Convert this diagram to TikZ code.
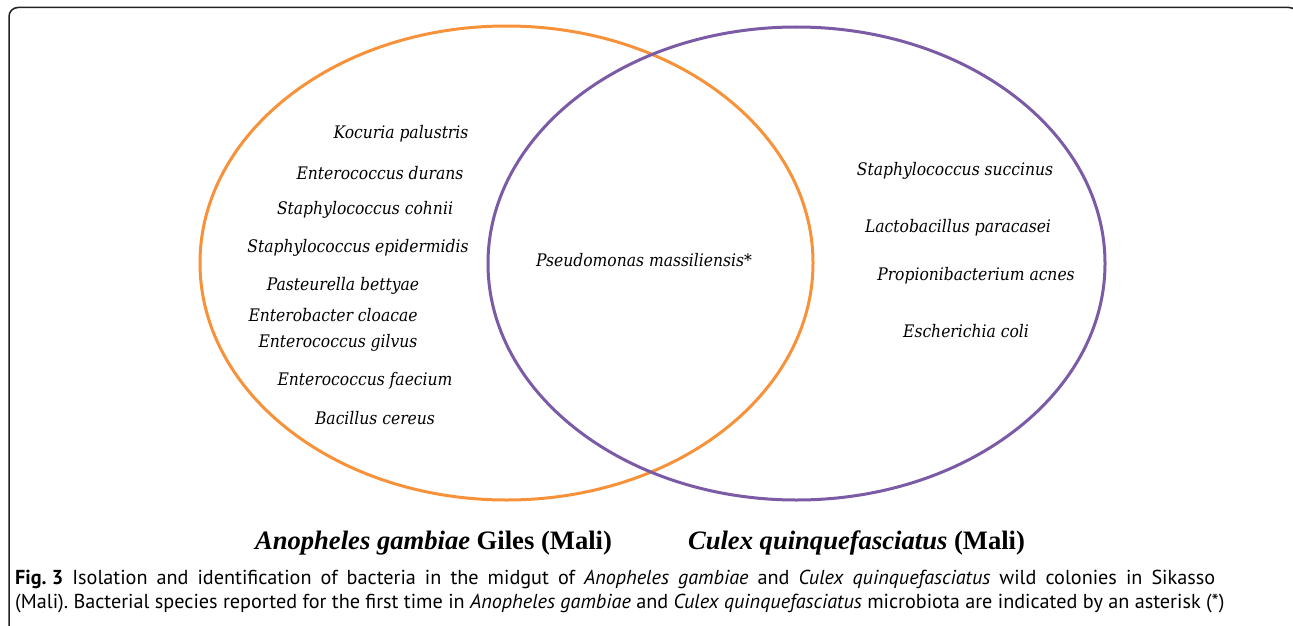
\documentclass[tikz,border=0pt]{standalone}
\usepackage{fontspec}
\setmainfont{Liberation Serif}
\newfontfamily\specfont{DejaVu Serif Condensed}
\newfontfamily\capfont{PT Sans}
\usepackage{tikz}
\usetikzlibrary{positioning}
\usetikzlibrary{shapes,shapes.geometric}
\definecolor{vennorange}{HTML}{F7923A}
\definecolor{vennpurple}{HTML}{7B5AA6}
\definecolor{framegray}{HTML}{222222}
\frenchspacing

\begin{document}
\begin{tikzpicture}[x=1pt, y=-1pt,
		species/.style={font=\specfont\itshape\fontsize{17.3}{20}\selectfont, inner sep=0pt},
		setname/.style={font=\bfseries\fontsize{26.6}{30}\selectfont, inner sep=0pt},
		vennset/.style={ellipse, draw, line width=3pt, inner sep=0pt}]
		\useasboundingbox (0,0) rectangle (1293,626);
		\clip (0,0) rectangle (1293,626);
		\draw[rounded corners=9pt, line width=1.5pt, framegray] (9,7.5) rectangle (1298,634);
		
		\node[vennset, vennorange, minimum width=613pt, minimum height=474pt] (anopheles) at (506.5,263) {};
		\node[vennset, vennpurple, minimum width=617pt, minimum height=473pt] (culex) at (796.5,263.5) {};
		
		% Anopheles only
		\node[species] (kp) at (401,134) {Kocuria palustris};
		\node[species] (ed) at (380,173) {Enterococcus durans};
		\node[species] (sc) at (365,210) {Staphylococcus cohnii};
		\node[species] (se) at (358,248) {Staphylococcus epidermidis};
		\node[species] (pb) at (343,286) {Pasteurella bettyae};
		\node[species] (ec) at (333,315) {Enterobacter cloacae};
		\node[species] (eg) at (338,343) {Enterococcus gilvus};
		\node[species] (ef) at (365,381) {Enterococcus faecium};
		\node[species] (bc) at (375,418) {Bacillus cereus};
		
		% shared
		\node[species] (pm) at (644,260) {Pseudomonas massiliensis*};
		
		% Culex only
		\node[species] (ss) at (955,171) {Staphylococcus succinus};
		\node[species] (lp) at (958,228) {Lactobacillus paracasei};
		\node[species] (pa) at (976,276) {Propionibacterium acnes};
		\node[species] (eco) at (966,331) {Escherichia coli};
		
		\node[setname] (ag) at (433.5,543) {\itshape Anopheles gambiae\upshape{} Giles (Mali)};
		\node[setname] (cq) at (856.5,543) {\itshape Culex quinquefasciatus\upshape{} (Mali)};
		
		\node[anchor=north west, align=left, inner sep=0pt,
			font=\capfont\fontsize{20.2}{24}\selectfont] (caption) at (15,570)
			{\makebox[1200pt][s]{\mbox{\textbf{Fig. 3}} Isolation and identification of bacteria in the midgut of \textit{Anopheles gambiae} and \textit{Culex quinquefasciatus} wild colonies in Sikasso}\\
			(Mali). Bacterial species reported for the first time in \textit{Anopheles gambiae} and \textit{Culex quinquefasciatus} microbiota are indicated by an asterisk (*)};
		
\end{tikzpicture}
\end{document}
